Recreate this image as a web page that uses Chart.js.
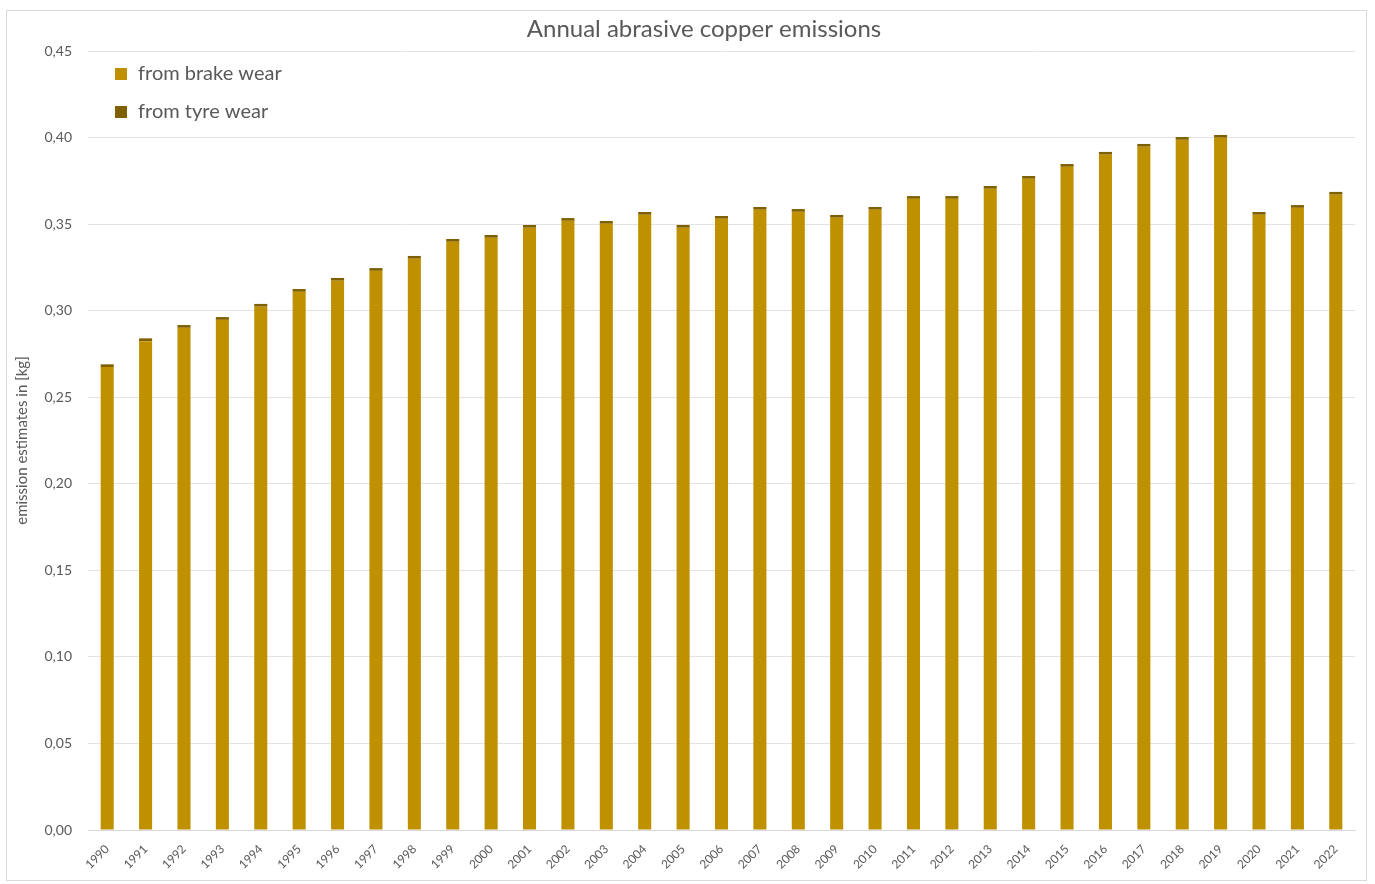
<!DOCTYPE html>
<html>
<head>
<meta charset="utf-8">
<script src="https://cdn.jsdelivr.net/npm/chart.js@4.4.1/dist/chart.umd.min.js"></script>
<style>
html,body{margin:0;padding:0;background:#fff;}
#wrap{width:1375px;height:884px;position:relative;}
</style>
</head>
<body>
<div id="wrap"><canvas id="c" width="1375" height="884"></canvas></div>
<script>
const years = ['1990','1991','1992','1993','1994','1995','1996','1997','1998','1999','2000','2001','2002','2003','2004','2005','2006','2007','2008','2009','2010','2011','2012','2013','2014','2015','2016','2017','2018','2019','2020','2021','2022'];
const brakeWear = [0.2674,0.2824,0.2901,0.2947,0.3023,0.3109,0.3173,0.3230,0.3300,0.3398,0.3421,0.3479,0.3519,0.3502,0.3554,0.3479,0.3531,0.3583,0.3571,0.3537,0.3583,0.3646,0.3646,0.3704,0.3762,0.3831,0.3901,0.3947,0.3987,0.3999,0.3554,0.3594,0.3670];
const tyreWear = [0.0016,0.0016,0.0016,0.0016,0.0016,0.0016,0.0016,0.0016,0.0016,0.0016,0.0016,0.0016,0.0016,0.0016,0.0016,0.0016,0.0016,0.0016,0.0016,0.0016,0.0016,0.0016,0.0016,0.0016,0.0016,0.0016,0.0016,0.0016,0.0016,0.0016,0.0016,0.0016,0.0016];
const seriesLabels = ['from brake wear','from tyre wear'];
const titleText = 'Annual abrasive copper emissions';
const yAxisTitle = 'emission estimates in [kg]';

const FONT = 'Lato, "Open Sans", sans-serif';
const GRAY = '#595959';

const frame = {
  id: 'frame',
  beforeDraw(chart) {
    const ctx = chart.ctx;
    ctx.save();
    ctx.fillStyle = '#fff';
    ctx.fillRect(0, 0, chart.width, chart.height);
    ctx.strokeStyle = '#d9d9d9';
    ctx.lineWidth = 1;
    ctx.strokeRect(6.5, 10.5, 1360, 870);
    ctx.restore();
  },
  afterDraw(chart) {
    const ctx = chart.ctx;
    ctx.save();
    ctx.font = '24px ' + FONT;
    ctx.fillStyle = GRAY;
    ctx.textAlign = 'center';
    ctx.textBaseline = 'middle';
    ctx.fillText(titleText, 704, 29);
    ctx.restore();
  }
};

const innerLegend = {
  id: 'innerLegend',
  afterDraw(chart) {
    const ctx = chart.ctx;
    ctx.save();
    ctx.font = '20px ' + FONT;
    ctx.textBaseline = 'middle';
    chart.data.datasets.forEach((ds, i) => {
      const y = 74 + i * 38;
      ctx.fillStyle = ds.backgroundColor;
      ctx.fillRect(115, y - 6, 12, 12);
      ctx.fillStyle = GRAY;
      ctx.fillText(ds.label, 138, y);
    });
    ctx.restore();
  }
};

new Chart(document.getElementById('c'), {
  type: 'bar',
  data: {
    labels: years,
    datasets: [
      { label: seriesLabels[0], data: brakeWear, backgroundColor: '#BF9000', borderWidth: 0 },
      { label: seriesLabels[1], data: tyreWear, backgroundColor: '#7F6000', borderWidth: 0 }
    ]
  },
  options: {
    responsive: false,
    animation: false,
    devicePixelRatio: 1,
    layout: { padding: { left: 8, right: 20, top: 51, bottom: 10 } },
    datasets: { bar: { categoryPercentage: 0.68, barPercentage: 0.5 } },
    plugins: {
      legend: { display: false },
      tooltip: { enabled: false },
      title: { display: false }
    },
    scales: {
      x: {
        stacked: true,
        grid: { display: false, drawTicks: false },
        border: { display: true, color: '#d9d9d9', width: 1 },
        ticks: {
          color: GRAY,
          font: { family: FONT, size: 12 },
          minRotation: 45, maxRotation: 45,
          padding: 12,
          autoSkip: false
        },
        afterFit(scale) { scale.height = 44; }
      },
      y: {
        stacked: true,
        min: 0, max: 0.45,
        grid: { color: '#e3e3e3', drawTicks: false },
        border: { display: false },
        ticks: {
          stepSize: 0.05,
          color: GRAY,
          font: { family: FONT, size: 14 },
          padding: 16,
          callback: v => v.toFixed(2).replace('.', ',')
        },
        title: {
          display: true,
          text: yAxisTitle,
          color: GRAY,
          font: { family: FONT, size: 15 },
          padding: { top: 5, bottom: 0 }
        },
        afterFit(scale) { scale.width = 80; }
      }
    }
  },
  plugins: [frame, innerLegend]
});
</script>
</body>
</html>
